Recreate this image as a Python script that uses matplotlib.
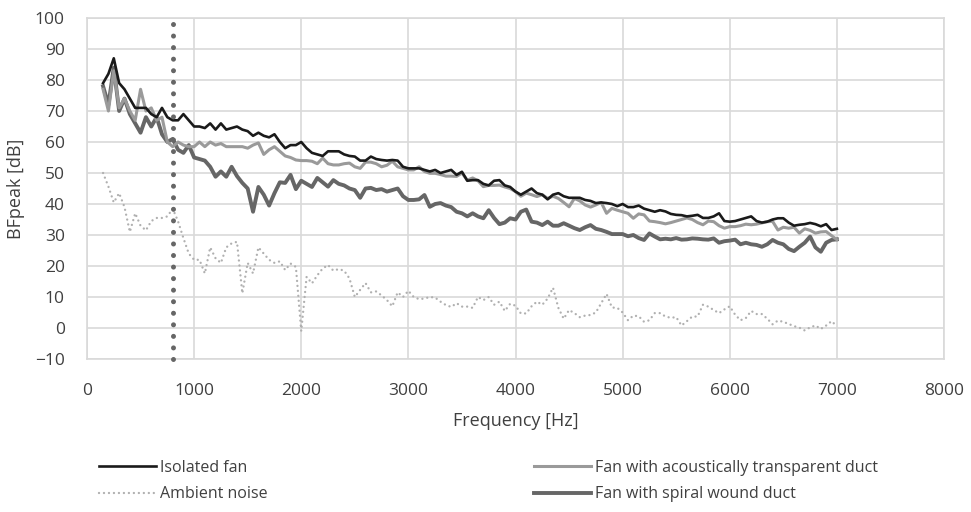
import numpy as np
import matplotlib
matplotlib.use("Agg")
import matplotlib.pyplot as plt

plt.rcParams['font.family'] = ['Open Sans', 'DejaVu Sans']

# frequency axis [Hz]
freq = list(range(150, 7001, 50))

isolated_fan = [
    79, 82, 87, 79, 77, 74, 71, 71, 71, 69,
    68, 71, 68, 67, 67, 69, 67, 65, 65, 64.5,
    66, 64, 66, 64, 64.5, 65, 64, 63.5, 62, 63,
    62, 61.5, 62.5, 60, 58, 59, 59, 60, 58, 56.5,
    56, 55.5, 57, 57, 57, 56, 55.5, 55.3, 54, 54,
    55.3, 54.5, 54.2, 54, 54.2, 54, 52, 51.5, 51.5, 51.5,
    51, 50.5, 51, 50, 50.5, 51, 49.4, 50.4, 47.5, 47.7,
    47.7, 46.5, 46, 47.5, 47.7, 46, 45.5, 44, 43, 44,
    45, 43.5, 43, 41.5, 43, 43.5, 42.5, 42, 42, 42,
    41.3, 41, 40.3, 40.5, 40.3, 40, 39.3, 40, 39, 39,
    39.5, 38.5, 38, 37.5, 38, 37.6, 36.8, 36.5, 36.4, 36,
    36.2, 36.5, 35.5, 35.5, 36, 37, 34.5, 34.3, 34.5, 35,
    35.5, 36, 34.5, 34, 34.3, 35, 35.4, 35.4, 34, 33,
    33.3, 33.5, 33.9, 33.5, 32.8, 33.5, 31.6, 32,
]

transparent_duct = [
    77, 70, 83, 71, 74, 70, 67, 77, 70, 71,
    67, 68, 60, 58.5, 60, 59, 58.5, 58.5, 60, 58.5,
    60, 59, 59.5, 58.5, 58.5, 58.5, 58.5, 58, 59, 59.7,
    56, 57.5, 58.5, 57, 55.5, 55, 54.2, 54, 54, 53.8,
    53, 54.8, 53, 52.6, 52.6, 53, 53.2, 52, 51.5, 53.5,
    53.5, 53, 52, 52.5, 53.8, 52, 51.5, 51, 51, 52,
    50.5, 49.9, 49.9, 49.5, 49, 49, 48.9, 50, 47.7, 48.4,
    47.5, 45.6, 46, 46, 46.1, 45.5, 45, 44, 42.5, 43.5,
    43, 42.4, 43, 41.8, 42.5, 41.8, 40.5, 39.1, 41.8, 41,
    39.7, 39, 39.7, 40.5, 37, 38.6, 38, 37.5, 37, 35.4,
    36.8, 36.5, 34.5, 34.3, 34, 33.6, 34, 34.5, 35, 35.5,
    35, 34, 33.3, 34.5, 34.3, 33, 32.2, 32.7, 32.7, 33,
    33.5, 33.3, 33.5, 33.9, 34.3, 34.4, 31.6, 32.5, 32.2, 32.5,
    30.6, 32, 31.5, 30.6, 31, 31.1, 29.8, 28.5,
]

spiral_duct = [
    78, 72, 84, 70, 74, 69, 66, 63, 68, 65,
    68, 62.5, 60, 61, 57.5, 56.5, 59, 55, 54.5, 54,
    52, 48.8, 50.5, 48.8, 52, 49, 46.8, 45, 37.5, 45.5,
    43, 39.5, 43.5, 47, 46.8, 49.4, 44.8, 47.5, 46.5, 45.5,
    48.4, 47, 45.6, 47.7, 46.5, 46, 45, 44.5, 42, 45,
    45.2, 44.5, 44.8, 44, 44.5, 45, 42.5, 41.3, 41.3, 41.5,
    42.9, 39.1, 40, 40.3, 39.5, 39, 37.5, 37, 36, 37,
    36, 35.4, 38, 35.5, 33.5, 34, 35.4, 35, 37.5, 38.2,
    34.3, 34, 33.2, 34.3, 33, 33, 33.8, 33, 32.2, 31.6,
    32.5, 33.2, 32, 31.6, 31, 30.3, 30.3, 30.3, 29.6, 30,
    29, 28.4, 30.5, 29.5, 28.6, 28.8, 28.6, 29, 28.5, 28.6,
    28.9, 28.8, 28.6, 28.5, 28.9, 27.5, 28, 28.2, 28.5, 27,
    27.5, 27, 26.8, 26.2, 27, 28.4, 27.5, 27, 25.5, 24.8,
    26.2, 27.5, 29.5, 26, 24.6, 27.5, 28.4, 28.6,
]

ambient_noise = [
    50, 45.6, 40.5, 43.5, 39, 31, 37, 33, 31.5, 34.5,
    35.5, 35.5, 36, 38.5, 34.4, 29, 24, 22, 22, 17.6,
    26, 22.5, 21, 26, 27.3, 27.8, 11.2, 21, 17.6, 26,
    24, 22, 21, 21.5, 18.7, 20.8, 19.7, -1, 16.5, 14.4,
    17, 19.2, 20.3, 18.5, 19, 18.5, 16, 10, 12.3, 14.5,
    11.5, 11.8, 10.5, 9, 7, 11.5, 10, 12, 10, 9.3,
    9.5, 10, 9.8, 8.5, 7.4, 6.8, 8, 6.9, 6.9, 6.5,
    10, 9, 10, 7.5, 8.5, 5.5, 7.8, 7.2, 4.7, 4.7,
    7, 8.5, 7.5, 9.5, 13, 6.5, 3, 5.8, 4.8, 3.5,
    4, 4.2, 5, 8, 11, 6.6, 6.5, 5, 2.5, 4,
    3.8, 2, 2.5, 4.8, 4.8, 3.7, 3.3, 3.5, 0.8, 2.2,
    3.7, 3.7, 7.5, 6.9, 5.8, 4.8, 6, 7, 4.3, 2.5,
    3.2, 5.5, 4.5, 4.5, 3, 1.2, 2.4, 2, 1.3, 0.6,
    0.1, -0.8, 0.2, 0.8, -0.3, 0.8, 2.2, 0.6,
]

marker_freq = 800  # vertical dotted reference line [Hz]

x_ticks = list(range(0, 8001, 1000))
y_ticks = list(range(-10, 101, 10))

fig = plt.figure(figsize=(9.71, 5.12), dpi=100)
ax = fig.add_axes([87/971, 1-359/512, (944-87)/971, (359-18)/512])

grid_c = '#d9d9d9'
txt_c = '#404040'
ax.set_xlim(0, 8000)
ax.set_ylim(-10, 100)
ax.set_xticks(x_ticks)
ax.set_yticks(y_ticks)
ax.grid(True, color=grid_c, linewidth=1.2, zorder=0)
for s in ax.spines.values():
    s.set_color(grid_c)
    s.set_linewidth(1.2)
ax.tick_params(length=0, labelsize=12.5, colors=txt_c)
ax.tick_params(axis='y', pad=16)
ax.tick_params(axis='x', pad=17)

l1, = ax.plot(freq, isolated_fan, color='#1a1a1a', lw=1.9, label='Isolated fan', zorder=5)
l3, = ax.plot(freq, transparent_duct, color='#9a9a9a', lw=2.2,
              label='Fan with acoustically transparent duct', zorder=4)
l4, = ax.plot(freq, spiral_duct, color='#666666', lw=2.8,
              label='Fan with spiral wound duct', zorder=3)
l2, = ax.plot(freq, ambient_noise, color='#b0b0b0', lw=1.7, dashes=(0.01, 2.1),
              dash_capstyle='round', label='Ambient noise', zorder=2)
ax.plot([marker_freq, marker_freq], [-10, 100], color='#666666', lw=3.6,
        dashes=(0.01, 2.3), dash_capstyle='round', zorder=6, clip_on=False)

ax.set_xlabel('Frequency [Hz]', fontsize=13, color=txt_c, labelpad=10)
ax.set_ylabel('BFpeak [dB]', fontsize=13, color=txt_c, labelpad=7)

leg_kw = dict(loc='upper left', ncol=1, frameon=False, fontsize=11.5,
              handlelength=3.6, handletextpad=0.2, labelspacing=0.65,
              borderpad=0, labelcolor=txt_c)
fig.legend(handles=[l1, l2], bbox_to_anchor=(91/971, 1-452/512), **leg_kw)
fig.legend(handles=[l3, l4], bbox_to_anchor=(526/971, 1-452/512), **leg_kw)

fig.savefig('out.png', dpi=100)
